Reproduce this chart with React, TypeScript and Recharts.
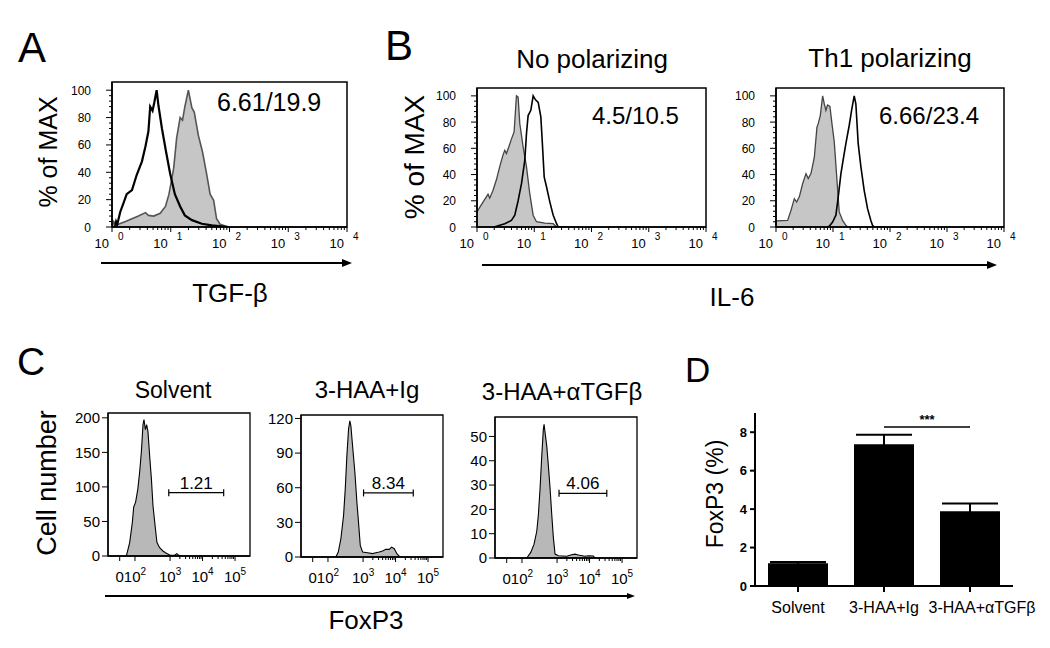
import React from 'react';
import {
  ComposedChart,
  Area,
  Line,
  XAxis,
  YAxis,
  ReferenceLine,
  ReferenceArea,
  BarChart,
  Bar,
  ErrorBar,
} from 'recharts';

const FONT = 'Arial, "Liberation Sans", Helvetica, sans-serif';

// ---------- Panel A: TGF-β (x = log10 intensity, y = % of max)
const tgfGreyX = [0, 0.03, 0.06, 0.11, 0.23, 0.34, 0.45, 0.57, 0.62, 0.71, 0.82, 0.91, 0.97, 1.05, 1.1, 1.16, 1.2, 1.24, 1.3, 1.36, 1.4, 1.47, 1.54, 1.61, 1.67, 1.73, 1.78, 1.84, 1.98];
const tgfGreyY = [0, 4, 1.5, 2, 4, 6, 8, 10.5, 8.5, 8, 10, 15, 24, 43, 65, 80, 78, 88, 100, 87, 84, 67, 55, 39, 24, 19.5, 6, 2, 0];
const tgfBlackX = [0, 0.05, 0.07, 0.09, 0.14, 0.2, 0.25, 0.34, 0.42, 0.51, 0.57, 0.62, 0.65, 0.69, 0.72, 0.76, 0.79, 0.85, 0.92, 0.99, 1.07, 1.16, 1.24, 1.36, 1.53, 1.7, 1.87, 1.98];
const tgfBlackY = [0, 0, 4, 2, 11, 18, 24, 27, 38, 48, 59, 70, 88, 85, 91, 100, 89, 72, 55, 39, 24, 15, 8.5, 5, 2.4, 1.2, 0.5, 0];

// ---------- Panel B: IL-6, no polarizing
const il6NoGreyX = [0, 0.047, 0.105, 0.193, 0.222, 0.28, 0.339, 0.397, 0.455, 0.485, 0.514, 0.555, 0.601, 0.648, 0.689, 0.718, 0.747, 0.806, 0.864, 0.923, 0.981, 1.039, 1.185, 1.331, 1.39];
const il6NoGreyY = [11.5, 15, 19, 25, 22, 28, 36, 46, 55, 58.5, 56, 61, 67, 72.5, 100, 99, 79, 61, 46, 25, 9, 4, 3, 2.5, 0];
const il6NoBlackX = [0.3, 0.368, 0.485, 0.601, 0.66, 0.718, 0.777, 0.835, 0.864, 0.893, 0.94, 0.981, 1.022, 1.069, 1.115, 1.139, 1.174, 1.215, 1.273, 1.331, 1.39, 1.419, 1.6];
const il6NoBlackY = [0, 1, 2.5, 5, 9, 20, 33, 51, 71, 85, 89, 100, 97, 95, 84, 66, 38, 30.5, 19, 9, 2.5, 0, 0];

// ---------- Panel B: IL-6, Th1 polarizing
const il6Th1GreyX = [0, 0.204, 0.263, 0.321, 0.362, 0.409, 0.467, 0.526, 0.566, 0.613, 0.672, 0.718, 0.742, 0.777, 0.818, 0.847, 0.876, 0.905, 0.946, 0.981, 1.022, 1.069, 1.109, 1.168, 1.226, 1.255];
const il6Th1GreyY = [4.6, 5, 12.7, 21.6, 19, 23, 33, 40.7, 37, 40.7, 53, 76, 79, 85, 100, 94, 89, 93, 92, 79, 65, 36, 11.5, 5, 1.3, 0];
const il6Th1BlackX = [0.9, 0.934, 0.993, 1.051, 1.092, 1.139, 1.185, 1.226, 1.285, 1.326, 1.372, 1.401, 1.442, 1.489, 1.547, 1.606, 1.664, 1.693, 1.723, 1.9];
const il6Th1BlackY = [0, 0.5, 3.8, 9, 23, 40.7, 53, 63.6, 77.6, 89, 100, 94, 63.6, 46, 28, 14, 5, 1.3, 0, 0];

// ---------- Panel C: FoxP3 (x = biexponential display position, y = cell number)
const solventX = [1.655, 1.757, 1.84, 1.88, 1.94, 2.01, 2.065, 2.117, 2.167, 2.197, 2.24, 2.28, 2.32, 2.37, 2.425, 2.474, 2.55, 2.597, 2.68, 2.78, 2.886, 2.99, 3.14, 3.21, 3.27, 3.35];
const solventY = [0, 19.5, 48.8, 70.7, 78, 97.6, 122, 151, 190, 197.6, 183, 190, 180, 146, 112, 73, 39, 19.5, 12, 7.3, 3.9, 1.5, 1, 3.4, 1, 0];
const igX = [2.163, 2.237, 2.317, 2.4, 2.452, 2.502, 2.554, 2.594, 2.625, 2.677, 2.748, 2.81, 2.852, 2.914, 2.985, 3.138, 3.292, 3.394, 3.498, 3.6, 3.702, 3.806, 3.877, 3.96, 4.04, 4.114, 4.163];
const igY = [0, 4.3, 15.8, 36, 59, 87.8, 110.8, 118, 113.7, 96.4, 73.4, 47.5, 33, 10, 4.3, 3.7, 2.9, 3.7, 4.3, 5.2, 6.6, 6.6, 8.6, 7.2, 2.9, 0.6, 0];
const antiTgfX = [2.068, 2.19, 2.292, 2.375, 2.425, 2.477, 2.529, 2.578, 2.6, 2.631, 2.683, 2.732, 2.785, 2.837, 2.886, 2.938, 3.04, 3.298, 3.452, 3.554, 3.655, 3.862, 3.963, 4.117, 4.169];
const antiTgfY = [0, 2.3, 5.7, 11, 17.8, 28.6, 42, 53, 55, 51.6, 46, 38, 28.6, 17.8, 8.4, 1.6, 0.9, 0.7, 1.35, 1.6, 1.2, 0.7, 0.9, 0.8, 0];

const solventGate = [2.96, 4.65, 91.7];
const igGate = [3.015, 4.545, 55.5];
const antiTgfGate = [3.06, 4.53, 26.6];
const gateLabels = ['1.21', '8.34', '4.06'];

const cTickPos = [1.45, 1.92, 3, 4, 5];
const cTickExp = ['', '2', '3', '4', '5'];

// ---------- Panel D: FoxP3 (%) summary
const categories = ['Solvent', '3-HAA+Ig', '3-HAA+\u03b1TGF\u03b2'];
const foxp3Mean = [1.18, 7.38, 3.89];
const foxp3Sem = [0.07, 0.49, 0.4];
const sigLevel = 8.27;

const pts = (xs: number[], ys: number[]) => xs.map((x, i) => ({ x, y: ys[i] }));

const logTicks = [0, 1, 2, 3, 4]
  .concat([0, 1, 2, 3].flatMap((k) => [2, 3, 4, 5, 6, 7, 8, 9].map((m) => k + Math.log10(m))))
  .sort((a, b) => a - b);
const pctTicks = Array.from({ length: 26 }, (_, i) => i * 4);
const cMinor = [3, 4].flatMap((k) => [2, 3, 4, 5, 6, 7, 8, 9].map((m) => k + Math.log10(m)));
const cTicks = [...cTickPos, ...cMinor].sort((a, b) => a - b);

const LogTick = (props: any) => {
  const { x, y, payload } = props;
  const v = payload.value;
  const major = Math.abs(v - Math.round(v)) < 1e-6;
  return (
    <g>
      <line x1={x} x2={x} y1={y} y2={y + (major ? 5 : 3)} stroke="#000" strokeWidth={1} />
      {major && (
        <>
          <text x={x - 3} y={y + 21} textAnchor="end" fontSize={13} fontFamily={FONT} fill="#000">
            10
          </text>
          <text x={x + 6} y={y + 13} textAnchor="start" fontSize={10} fontFamily={FONT} fill="#000">
            {Math.round(v)}
          </text>
        </>
      )}
    </g>
  );
};

const PctTick = (props: any) => {
  const { x, y, payload } = props;
  const v = payload.value;
  const major = v % 20 === 0;
  return (
    <g>
      <line x1={x - (major ? 6 : 3)} x2={x} y1={y} y2={y} stroke="#000" strokeWidth={1} />
      {major && (
        <text x={x - 21} y={y + 4.5} textAnchor="end" fontSize={12} fontFamily={FONT} fill="#000">
          {v}
        </text>
      )}
    </g>
  );
};

const BiexTick = (props: any) => {
  const { x, y, payload } = props;
  const i = cTickPos.findIndex((p) => Math.abs(p - payload.value) < 1e-6);
  if (i < 0) return <line x1={x} x2={x} y1={y} y2={y + 3} stroke="#000" strokeWidth={1} />;
  return (
    <g>
      <line x1={x} x2={x} y1={y} y2={y + 5} stroke="#000" strokeWidth={1} />
      <text x={x} y={y + 26} textAnchor="middle" fontSize={15} fontFamily={FONT} fill="#000">
        {i === 0 ? (
          '0'
        ) : (
          <>
            10
            <tspan dy={-7} fontSize={10}>
              {cTickExp[i]}
            </tspan>
          </>
        )}
      </text>
    </g>
  );
};

const CatTick = (props: any) => {
  const { x, y, payload, index } = props;
  // the long last label sits a little right of its tick in the original
  const shift = index === 2 ? 12 : 0;
  return (
    <text x={x + shift} y={y + 12} textAnchor="middle" fontSize={16} fontFamily={FONT} fill="#000">
      {payload.value}
    </text>
  );
};

const GateShape = (props: any) => {
  const { x1, y1, x2, y2 } = props;
  return (
    <g>
      <line x1={x1} y1={y1} x2={x2} y2={y2} stroke="#000" strokeWidth={1.2} />
      <line x1={x1} x2={x1} y1={y1 - 3.5} y2={y1 + 3.5} stroke="#000" strokeWidth={1.2} />
      <line x1={x2} x2={x2} y1={y2 - 3.5} y2={y2 + 3.5} stroke="#000" strokeWidth={1.2} />
    </g>
  );
};

const Y_W = 60;
const TOP = 10;
const X_H = 45;
const RIGHT = 22;

interface HistoProps {
  box: { x: number; y: number; w: number; h: number };
  xDomain: [number, number];
  xTicks: number[];
  xTick: any;
  yDomain: [number, number];
  yTicks: number[];
  flowY?: boolean;
  grey: { x: number; y: number }[];
  black?: { x: number; y: number }[];
  greyStroke: string;
  greyFill: string;
  greyWidth: number;
  blackWidth?: number;
  gate?: number[];
  gateLabel?: string;
  frameWidth: number;
}

const Histo: React.FC<HistoProps> = ({
  box,
  xDomain,
  xTicks,
  xTick,
  yDomain,
  yTicks,
  flowY,
  grey,
  black,
  greyStroke,
  greyFill,
  greyWidth,
  blackWidth = 2,
  gate,
  gateLabel,
  frameWidth,
}) => {
  const frame = { stroke: '#000', strokeWidth: frameWidth };
  return (
    <div style={{ position: 'absolute', left: box.x - Y_W, top: box.y - TOP }}>
      <ComposedChart
        width={Y_W + box.w + RIGHT}
        height={TOP + box.h + X_H}
        data={grey}
        margin={{ top: TOP, right: RIGHT, bottom: 0, left: 0 }}
      >
        <XAxis
          type="number"
          dataKey="x"
          domain={xDomain}
          allowDataOverflow
          ticks={xTicks}
          interval={0}
          tickSize={0}
          tickMargin={0}
          tickLine={false}
          tick={xTick}
          axisLine={frame}
          height={X_H}
        />
        {flowY ? (
          <YAxis
            type="number"
            domain={yDomain}
            allowDataOverflow
            ticks={yTicks}
            interval={0}
            width={Y_W}
            tickSize={0}
            tickMargin={0}
            tickLine={false}
            tick={<PctTick />}
            axisLine={frame}
          />
        ) : (
          <YAxis
            type="number"
            domain={yDomain}
            allowDataOverflow
            ticks={yTicks}
            interval={0}
            width={Y_W}
            tickSize={6}
            tickMargin={2}
            tickLine={{ stroke: '#000' }}
            tick={{ fill: '#000', fontSize: 15, fontFamily: FONT }}
            axisLine={frame}
          />
        )}
        <Area
          type="linear"
          dataKey="y"
          fill={greyFill}
          fillOpacity={1}
          stroke={greyStroke}
          strokeWidth={greyWidth}
          isAnimationActive={false}
          dot={false}
          activeDot={false}
        />
        {black && (
          <Line
            type="linear"
            data={black}
            dataKey="y"
            stroke="#000"
            strokeWidth={blackWidth}
            dot={false}
            activeDot={false}
            isAnimationActive={false}
          />
        )}
        <ReferenceArea
          x1={xDomain[0]}
          x2={xDomain[1]}
          y1={yDomain[0]}
          y2={yDomain[1]}
          fill="none"
          fillOpacity={0}
          stroke="#000"
          strokeWidth={frameWidth}
          strokeOpacity={1}
          ifOverflow="visible"
        />
        {gate && (
          <ReferenceLine
            segment={[
              { x: gate[0], y: gate[2] },
              { x: gate[1], y: gate[2] },
            ]}
            shape={<GateShape />}
            ifOverflow="visible"
            label={{ value: gateLabel, position: 'top', fontSize: 17, fill: '#000', fontFamily: FONT, offset: 4 }}
          />
        )}
      </ComposedChart>
    </div>
  );
};

const Arrow = ({ x1, x2, y, head, half }: { x1: number; x2: number; y: number; head: number; half: number }) => (
  <g>
    <line x1={x1} x2={x2 - head + 1} y1={y} y2={y} stroke="#000" strokeWidth={2} />
    <polygon points={`${x2},${y} ${x2 - head},${y - half} ${x2 - head},${y + half}`} fill="#000" />
  </g>
);

const T = ({ x, y, size, children, anchor = 'start', rotate = false, weight = 'normal' }: any) => (
  <text
    x={x}
    y={y}
    fontSize={size}
    fontFamily={FONT}
    fontWeight={weight}
    fill="#000"
    textAnchor={anchor}
    dominantBaseline={rotate ? 'central' : 'auto'}
    transform={rotate ? `rotate(-90 ${x} ${y})` : undefined}
  >
    {children}
  </text>
);

const App: React.FC = () => {
  const dData = categories.map((name, i) => ({ name, value: foxp3Mean[i], sem: foxp3Sem[i] }));
  return (
    <div
      style={{
        position: 'absolute',
        left: 0,
        top: 0,
        width: 1050,
        height: 648,
        background: '#fff',
        overflow: 'hidden',
        fontFamily: FONT,
      }}
    >
      {/* A */}
      <Histo
        box={{ x: 112, y: 82, w: 235, h: 145 }}
        xDomain={[0, 4]}
        xTicks={logTicks}
        xTick={<LogTick />}
        yDomain={[0, 106]}
        yTicks={pctTicks}
        flowY
        grey={pts(tgfGreyX, tgfGreyY)}
        black={pts(tgfBlackX, tgfBlackY)}
        greyStroke="#555"
        greyFill="#c6c6c6"
        greyWidth={1.6}
        blackWidth={2.2}
        frameWidth={1.5}
      />
      {/* B left */}
      <Histo
        box={{ x: 477, y: 88, w: 229, h: 139 }}
        xDomain={[0, 4]}
        xTicks={logTicks}
        xTick={<LogTick />}
        yDomain={[0, 106]}
        yTicks={pctTicks}
        flowY
        grey={pts(il6NoGreyX, il6NoGreyY)}
        black={pts(il6NoBlackX, il6NoBlackY)}
        greyStroke="#444"
        greyFill="#c6c6c6"
        greyWidth={1.3}
        blackWidth={1.6}
        frameWidth={1.5}
      />
      {/* B right */}
      <Histo
        box={{ x: 776, y: 88, w: 228, h: 139 }}
        xDomain={[0, 4]}
        xTicks={logTicks}
        xTick={<LogTick />}
        yDomain={[0, 106]}
        yTicks={pctTicks}
        flowY
        grey={pts(il6Th1GreyX, il6Th1GreyY)}
        black={pts(il6Th1BlackX, il6Th1BlackY)}
        greyStroke="#444"
        greyFill="#c6c6c6"
        greyWidth={1.3}
        blackWidth={1.6}
        frameWidth={1.5}
      />
      {/* C */}
      <Histo
        box={{ x: 108, y: 413, w: 142, h: 143 }}
        xDomain={[1.09, 5.46]}
        xTicks={cTicks}
        xTick={<BiexTick />}
        yDomain={[0, 207]}
        yTicks={[0, 50, 100, 150, 200]}
        grey={pts(solventX, solventY)}
        greyStroke="#000"
        greyFill="#b8b8b8"
        greyWidth={1.1}
        gate={solventGate}
        gateLabel={gateLabels[0]}
        frameWidth={1.3}
      />
      <Histo
        box={{ x: 301, y: 415, w: 142, h: 142 }}
        xDomain={[1.09, 5.46]}
        xTicks={cTicks}
        xTick={<BiexTick />}
        yDomain={[0, 123]}
        yTicks={[0, 30, 60, 90, 120]}
        grey={pts(igX, igY)}
        greyStroke="#000"
        greyFill="#b8b8b8"
        greyWidth={1.1}
        gate={igGate}
        gateLabel={gateLabels[1]}
        frameWidth={1.3}
      />
      <Histo
        box={{ x: 495, y: 417, w: 142, h: 141 }}
        xDomain={[1.09, 5.46]}
        xTicks={cTicks}
        xTick={<BiexTick />}
        yDomain={[0, 58]}
        yTicks={[0, 10, 20, 30, 40, 50]}
        grey={pts(antiTgfX, antiTgfY)}
        greyStroke="#000"
        greyFill="#b8b8b8"
        greyWidth={1.1}
        gate={antiTgfGate}
        gateLabel={gateLabels[2]}
        frameWidth={1.3}
      />
      {/* D */}
      <div style={{ position: 'absolute', left: 680, top: 400 }}>
        <BarChart
          width={368}
          height={230}
          data={dData}
          margin={{ top: 13, right: 35, left: 0, bottom: 0 }}
          barCategoryGap="15%"
        >
          <XAxis
            dataKey="name"
            height={44}
            interval={0}
            tickSize={6}
            tickMargin={9}
            axisLine={{ stroke: '#000', strokeWidth: 2 }}
            tickLine={{ stroke: '#000', strokeWidth: 2 }}
            tick={<CatTick />}
          />
          <YAxis
            width={75}
            domain={[0, 9]}
            ticks={[0, 2, 4, 6, 8]}
            interval={0}
            tickSize={5}
            tickMargin={3}
            axisLine={{ stroke: '#000', strokeWidth: 2 }}
            tickLine={{ stroke: '#000', strokeWidth: 2 }}
            tick={{ fill: '#000', fontSize: 13, fontWeight: 'bold', fontFamily: FONT }}
          />
          <Bar dataKey="value" fill="#000" barSize={60} isAnimationActive={false}>
            <ErrorBar dataKey="sem" width={28} stroke="#000" strokeWidth={2} direction="y" />
          </Bar>
          <ReferenceLine
            segment={[
              { x: categories[1], y: sigLevel },
              { x: categories[2], y: sigLevel },
            ]}
            stroke="#000"
            strokeWidth={1.5}
            ifOverflow="visible"
            label={{ value: '***', position: 'top', fontSize: 13, fontWeight: 'bold', fill: '#000', fontFamily: FONT, offset: 3 }}
          />
        </BarChart>
      </div>

      {/* overlay text and arrows */}
      <svg
        width={1050}
        height={648}
        style={{ position: 'absolute', left: 0, top: 0, pointerEvents: 'none' }}
      >
        <T x={18} y={62} size={42}>A</T>
        <T x={385} y={60} size={42}>B</T>
        <T x={17} y={375} size={39}>C</T>
        <T x={685} y={382} size={35}>D</T>

        <T x={48} y={152} size={25} anchor="middle" rotate>% of MAX</T>
        <T x={414} y={157} size={28} anchor="middle" rotate>% of MAX</T>
        <T x={217} y={111} size={25}>6.61/19.9</T>
        <T x={592} y={124} size={24}>4.5/10.5</T>
        <T x={879} y={124} size={24}>6.66/23.4</T>
        <T x={592} y={68} size={26} anchor="middle">No polarizing</T>
        <T x={890} y={67} size={26} anchor="middle">Th1 polarizing</T>
        <Arrow x1={101} x2={352} y={263} head={10} half={4} />
        <T x={230} y={302} size={26} anchor="middle">TGF-β</T>
        <Arrow x1={482} x2={997} y={265} head={10} half={4} />
        <T x={732} y={306} size={26} anchor="middle">IL-6</T>

        <T x={173} y={398} size={23} anchor="middle">Solvent</T>
        <T x={367} y={398} size={24} anchor="middle">3-HAA+Ig</T>
        <T x={562} y={400} size={24} anchor="middle">3-HAA+αTGFβ</T>
        <T x={47} y={483} size={27} anchor="middle" rotate>Cell number</T>
        <Arrow x1={105} x2={635} y={596} head={8} half={3} />
        <T x={366} y={629} size={26} anchor="middle">FoxP3</T>

        <T x={715} y={494} size={23} anchor="middle" rotate>FoxP3 (%)</T>
      </svg>
    </div>
  );
};

export default App;
